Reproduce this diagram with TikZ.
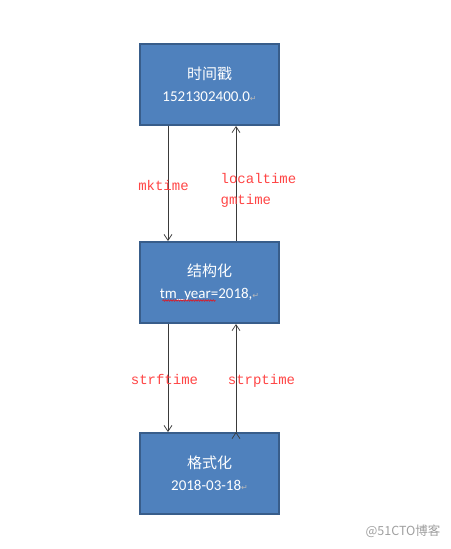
\documentclass[tikz,border=0pt]{standalone}
\usepackage{fontspec}
\setmainfont{Carlito}
\newfontfamily\cjk{Noto Sans CJK SC}
\newfontfamily\mono{Liberation Mono}
\newfontfamily\sym{DejaVu Sans}
\usetikzlibrary{arrows.meta,positioning,decorations.pathmorphing}
\definecolor{boxfill}{HTML}{4F81BD}
\definecolor{boxline}{HTML}{385D8A}
\definecolor{lblred}{HTML}{FF4545}
\definecolor{linegray}{HTML}{3A3A3A}
\newcommand{\pmark}{{\sym\fontsize{8}{8}\selectfont\textcolor{gray!55}{↵}}}

\begin{document}
\begin{tikzpicture}[x=1pt, y=-1pt, node distance=115pt,
    >={Straight Barb[length=6pt,width=8pt]},
    every node/.append style={align=center},
    blk/.style={draw=boxline, line width=2pt, fill=boxfill, text=white,
      minimum width=139pt, minimum height=81pt, inner sep=0pt,
      font=\fontsize{15}{22}\selectfont},
    lbl/.style={text=lblred, font=\mono\fontsize{14}{21}\selectfont, align=left}]
   \useasboundingbox (0,0) rectangle (450,549);
   \node [blk] (ts) at (209.5,84.5) {{\cjk 时间戳}\\1521302400.0\pmark};
   \node [blk, below=115pt of ts] (st) {{\cjk 结构化}\\tm\_year=2018,\pmark};
   \node [blk, below=108pt of st] (fmt) {{\cjk 格式化}\\2018-03-18\pmark};

   \path[->, draw=linegray, line width=0.7pt]
   ([xshift=-41.5pt]ts.south) edge node[lbl, pos=0.52, xshift=-4.5pt] {mktime} ([xshift=-41.5pt]st.north)
   ([xshift=26.5pt]st.north) edge node[lbl, pos=0.44, xshift=22.5pt] {localtime\\gmtime} ([xshift=26.5pt]ts.south)
   ([xshift=-41.5pt]st.south) edge node[lbl, pos=0.51, xshift=-3.5pt] {strftime} ([xshift=-41.5pt]fmt.north)
   ([xshift=26.5pt]fmt.north) edge node[lbl, pos=0.47, xshift=25.5pt] {strptime} ([xshift=26.5pt]st.south);

   % spell-check mark
   \draw[red, line width=0.5pt, decorate, decoration={snake, amplitude=0.7pt, segment length=2.5pt}]
     ([xshift=-47pt,yshift=-18pt]st.center) -- ([xshift=6pt,yshift=-18pt]st.center);

   \node [text=gray!75, font=\cjk\fontsize{12.5}{14}\selectfont, anchor=east] (wm) at (444,531) {@51CTO博客};
\end{tikzpicture}
\end{document}
